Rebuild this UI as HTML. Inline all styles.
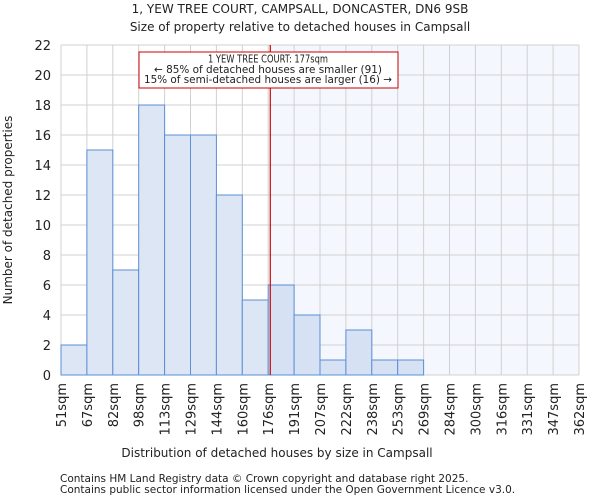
<!DOCTYPE html>
<html><head><meta charset="utf-8"><style>
body{margin:0;background:#fff;font-family:"DejaVu Sans","Liberation Sans",sans-serif;}
svg text{font-family:"DejaVu Sans","Liberation Sans",sans-serif;fill:#222;}
</style></head><body>
<svg id="chart" width="600" height="500" xmlns="http://www.w3.org/2000/svg">
<text x="300" y="13" text-anchor="middle" font-size="12">1, YEW TREE COURT, CAMPSALL, DONCASTER, DN6 9SB</text>
<text x="300" y="31" text-anchor="middle" font-size="12">Size of property relative to detached houses in Campsall</text>
<g id="plot"></g>
<text x="277" y="457" text-anchor="middle" font-size="12">Distribution of detached houses by size in Campsall</text>
<text transform="translate(12,210) rotate(-90)" text-anchor="middle" font-size="12">Number of detached properties</text>
<text x="60" y="482" font-size="10.5" fill="#444">Contains HM Land Registry data © Crown copyright and database right 2025.</text>
<text x="60" y="493" font-size="10.5" fill="#444">Contains public sector information licensed under the Open Government Licence v3.0.</text>
</svg>
<script>
const categories=["51sqm","67sqm","82sqm","98sqm","113sqm","129sqm","144sqm","160sqm","176sqm","191sqm","207sqm","222sqm","238sqm","253sqm","269sqm","284sqm","300sqm","316sqm","331sqm","347sqm","362sqm"];
const counts=[2,15,7,18,16,16,12,5,6,4,1,3,1,1,0,0,0,0,0,0];
const yTicks=[0,2,4,6,8,10,12,14,16,18,20,22];
const markerBin=8.08;
const L=61,R=579,T=45,B=375,YMAX=22,N=counts.length;
const xs=i=>L+(R-L)*i/N;
const ys=v=>B-(B-T)*v/YMAX;
const NS="http://www.w3.org/2000/svg";
const g=document.getElementById('plot');
function mk(tag,attrs){const e=document.createElementNS(NS,tag);for(const k in attrs)e.setAttribute(k,attrs[k]);g.appendChild(e);return e;}
const mx=xs(markerBin);
let e=mk('rect',{x:mx,y:T,width:R-mx,height:B-T,fill:'#f4f7fd'});


for(let i=0;i<=N;i++){e=mk('line',{x1:xs(i),x2:xs(i),y1:T,y2:B,stroke:'#d0d0d0','stroke-width':1});

}
yTicks.forEach(v=>{e=mk('line',{x1:L,x2:R,y1:ys(v),y2:ys(v),stroke:'#d0d0d0','stroke-width':1});


e=mk('text',{x:L-10,y:ys(v)+5,'text-anchor':'end','font-size':13});e.textContent=v;

});
counts.forEach((c,i)=>{if(c<=0)return;e=mk('rect',{x:xs(i),y:ys(c),width:xs(i+1)-xs(i),height:B-ys(c),fill:i>=8?'#d6e2f3':'#dde6f4',stroke:'#5b8fd6','stroke-width':1});

});
categories.forEach((c,i)=>{const x=xs(i);e=mk('text',{transform:`translate(${x+5},${B+8}) rotate(-90)`,'text-anchor':'end','font-size':13});e.textContent=c;

});
e=mk('line',{x1:mx,x2:mx,y1:T,y2:B,stroke:'#cc0000','stroke-width':1.2});


e=mk('rect',{x:139,y:52,width:259,height:36,fill:'#fff',stroke:'#cc0000','stroke-width':1});


["1 YEW TREE COURT: 177sqm","← 85% of detached houses are smaller (91)","15% of semi-detached houses are larger (16) →"].forEach((t,k)=>{e=mk('text',{x:268,y:62.5+k*10.3,'text-anchor':'middle','font-size':10.5,textLength:k==0?120:(k==1?228:248),lengthAdjust:'spacingAndGlyphs'});e.textContent=t;

});
</script>
</body></html>
